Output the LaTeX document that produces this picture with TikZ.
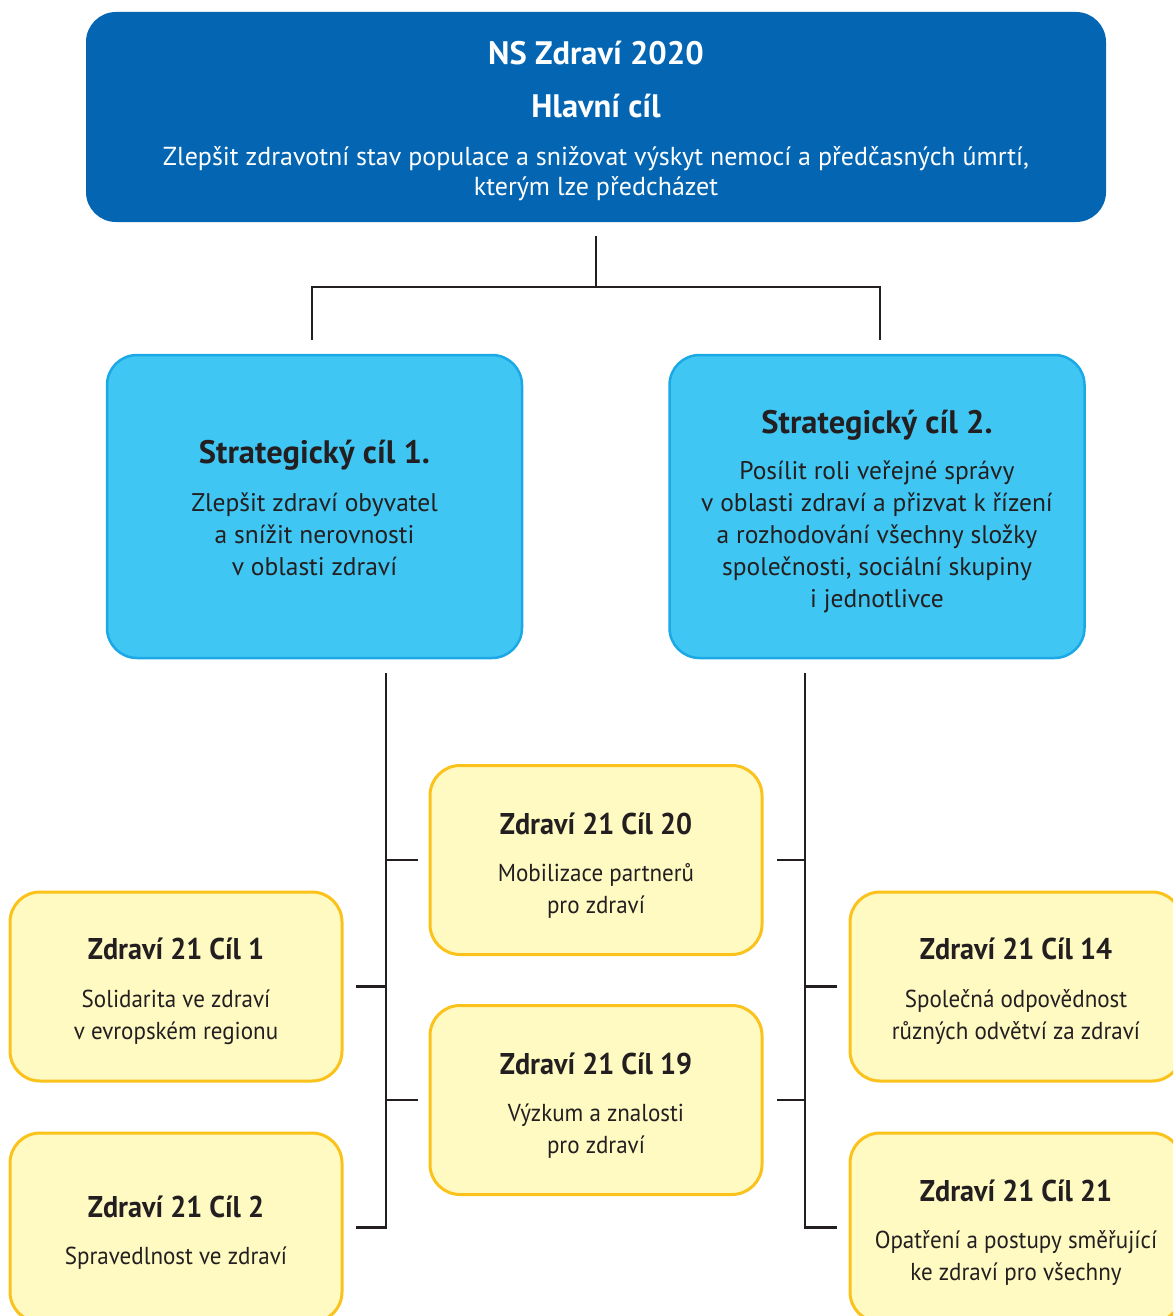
\documentclass[tikz,border=0pt]{standalone}
\usepackage{fontspec}
\setmainfont{PT Sans}
\newfontfamily\condfont[FakeStretch=0.94]{PT Sans}
\usetikzlibrary{calc}
\definecolor{topblue}{HTML}{0466B3}
\definecolor{stratfill}{HTML}{40C6F2}
\definecolor{stratdraw}{HTML}{1BA8E6}
\definecolor{yelfill}{HTML}{FFF9C2}
\definecolor{yeldraw}{HTML}{FBC21B}
\definecolor{ink}{HTML}{231F20}
\tikzset{
  topbox/.style={fill=topblue, rounded corners=30pt, minimum width=1020pt, minimum height=210pt, inner sep=0pt, text=white, font={\fontsize{26}{30}\selectfont}},
  stratbox/.style={fill=stratfill, draw=stratdraw, line width=2.5pt, rounded corners=30pt, minimum width=415pt, minimum height=303pt, inner sep=0pt, text=ink, font={\fontsize{25.5}{32}\selectfont}},
  goalbox/.style={fill=yelfill, draw=yeldraw, line width=3pt, rounded corners=30pt, minimum width=332pt, minimum height=189pt, inner sep=0pt, text=ink, font={\condfont\fontsize{24.5}{32}\selectfont}},
  conn/.style={draw=ink, line width=2.5pt},
}
\newcommand{\ttl}[1]{{\fontsize{32.5}{32}\selectfont\bfseries #1}}
\newcommand{\gttl}[1]{{\fontsize{30}{32}\selectfont\condfont\bfseries #1}}
% #1 = extra height added on top (shifts text down by half of it)
\newcommand{\txtblock}[2]{\raisebox{0pt}[\dimexpr\height+#1\relax][\depth]{\begin{tabular}{@{}c@{}}#2\end{tabular}}}
\begin{document}
\begin{tikzpicture}[x=1pt,y=-1pt]
\useasboundingbox (0,0) rectangle (1173,1316);
\clip (0,0) rectangle (1173,1316);
% top
\node[topbox] (top) at (596,117) {\txtblock{12pt}{%
  \ttl{NS Zdraví 2020}\\[21pt]
  \ttl{Hlavní cíl}\\[18pt]
  Zlepšit zdravotní stav populace a snižovat výskyt nemocí a předčasných úmrtí,\\
  kterým lze předcházet}};
% strategic
\node[stratbox] (s1) at (314.5,506.5) {\txtblock{12pt}{%
  \ttl{Strategický cíl 1.}\\[16pt]
  Zlepšit zdraví obyvatel\\ a snížit nerovnosti\\ v oblasti zdraví}};
\node[stratbox] (s2) at (877,506.5) {\txtblock{14pt}{%
  \ttl{Strategický cíl 2.}\\[14pt]
  Posílit roli veřejné správy\\ v oblasti zdraví a přizvat k řízení\\ a rozhodování všechny složky\\ společnosti, sociální skupiny\\ i jednotlivce}};
% goals
\node[goalbox] (c20) at (596,860) {\txtblock{15pt}{%
  \gttl{Zdraví 21 Cíl 20}\\[15pt]
  Mobilizace partnerů\\ pro zdraví}};
\node[goalbox] (c19) at (596,1100) {\txtblock{15pt}{%
  \gttl{Zdraví 21 Cíl 19}\\[15pt]
  Výzkum a znalosti\\ pro zdraví}};
\node[goalbox] (c1) at (176,986.5) {\txtblock{14pt}{%
  \gttl{Zdraví 21 Cíl 1}\\[16pt]
  Solidarita ve zdraví\\ v evropském regionu}};
\node[goalbox] (c2) at (176,1227.5) {\txtblock{14pt}{%
  \gttl{Zdraví 21 Cíl 2}\\[15pt]
  Spravedlnost ve zdraví}};
\node[goalbox] (c14) at (1016,986.5) {\txtblock{14pt}{%
  \gttl{Zdraví 21 Cíl 14}\\[16pt]
  Společná odpovědnost\\ různých odvětví za zdraví}};
\node[goalbox] (c21) at (1016,1227.5) {\txtblock{14pt}{%
  \gttl{Zdraví 21 Cíl 21}\\[15pt]
  Opatření a postupy směřující\\ ke zdraví pro všechny}};
% top connector
\coordinate (t0) at ($(top.south)+(0,14)$);
\coordinate (tm) at (596,287);
\coordinate (tl) at (312,287);
\coordinate (tr) at (880,287);
\coordinate (tlb) at (312,340);
\coordinate (trb) at (880,340);
\draw[conn] (t0) -- (tm);
\draw[conn] (tlb) -- (tl) -- (tr) -- (trb);
% left spine
\coordinate (la) at (386,673);
\coordinate (lb) at (386,1227.5);
\draw[conn] (la) -- (lb) -- ($(c2.east)+(12,0)$);
\draw[conn] (la |- c20.west) -- ($(c20.west)+(-11,0)$);
\draw[conn] (la |- c19.west) -- ($(c19.west)+(-11,0)$);
\draw[conn] (la |- c1.east) -- ($(c1.east)+(12,0)$);
% right spine
\coordinate (ra) at (805,673);
\coordinate (rb) at (805,1227.5);
\draw[conn] (ra) -- (rb) -- ($(c21.west)+(-12,0)$);
\draw[conn] (ra |- c20.east) -- ($(c20.east)+(13,0)$);
\draw[conn] (ra |- c19.east) -- ($(c19.east)+(13,0)$);
\draw[conn] (ra |- c14.west) -- ($(c14.west)+(-12,0)$);
\end{tikzpicture}
\end{document}
